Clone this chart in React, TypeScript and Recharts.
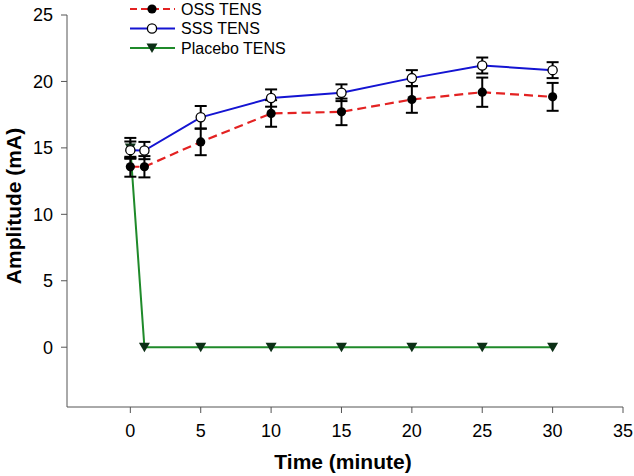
import React from 'react';
import { LineChart, Line, XAxis, YAxis, ErrorBar, Legend } from 'recharts';

const times = [0, 1, 5, 10, 15, 20, 25, 30];
const ossValues = [13.58, 13.58, 15.45, 17.59, 17.71, 18.64, 19.19, 18.84];
const ossErrors = [0.75, 0.8, 1.0, 1.0, 1.0, 1.0, 1.1, 1.05];
const sssValues = [14.83, 14.8, 17.3, 18.75, 19.15, 20.25, 21.2, 20.85];
const sssErrors = [0.65, 0.65, 0.85, 0.65, 0.63, 0.6, 0.6, 0.6];
const placeboValues = [15.0, 0, 0, 0, 0, 0, 0, 0];
const placeboErrors: (number | null)[] = [0.75, null, null, null, null, null, null, null];
const xTicks = [0, 5, 10, 15, 20, 25, 30, 35];
const yTicks = [0, 5, 10, 15, 20, 25];

const data = times.map((t, i) => ({
  time: t,
  oss: ossValues[i],
  ossErr: ossErrors[i],
  sss: sssValues[i],
  sssErr: sssErrors[i],
  placebo: placeboValues[i],
  placeboErr: placeboErrors[i],
}));

const FONT = '"Liberation Sans", Arial, Helvetica, sans-serif';
const RED = '#e32222';
const BLUE = '#1414d2';
const GREEN = '#1f8a2a';
const TRI = '#0c2f16';
const AXIS = '#555555';

const FilledDot = (p: any) =>
  p.cx == null ? null : <circle key={p.key} cx={p.cx} cy={p.cy} r={4.6} fill="#000" />;
const OpenDot = (p: any) =>
  p.cx == null ? null : (
    <circle key={p.key} cx={p.cx} cy={p.cy} r={4.6} fill="#fff" stroke="#000" strokeWidth={1.3} />
  );
const TriDot = (p: any) =>
  p.cx == null ? null : (
    <polygon
      key={p.key}
      points={`${p.cx - 5.5},${p.cy - 4.5} ${p.cx + 5.5},${p.cy - 4.5} ${p.cx},${p.cy + 5}`}
      fill={TRI}
    />
  );

const legendItems = [
  { label: 'OSS TENS', color: RED, dash: '7 4', marker: 'filled' },
  { label: 'SSS TENS', color: BLUE, dash: undefined, marker: 'open' },
  { label: 'Placebo TENS', color: GREEN, dash: undefined, marker: 'tri' },
];

const LegendContent = () => (
  <svg width={200} height={60} style={{ display: 'block' }}>
    {legendItems.map((it, i) => {
      const y = 9 + i * 19.5;
      return (
        <g key={it.label}>
          <line x1={2} y1={y} x2={47} y2={y} stroke={it.color} strokeWidth={2} strokeDasharray={it.dash} />
          {it.marker === 'filled' && <circle cx={24} cy={y} r={4.6} fill="#000" />}
          {it.marker === 'open' && <circle cx={24} cy={y} r={4.6} fill="#fff" stroke="#000" strokeWidth={1.3} />}
          {it.marker === 'tri' && (
            <polygon points={`${24 - 5.5},${y - 4.5} ${24 + 5.5},${y - 4.5} ${24},${y + 5}`} fill={TRI} />
          )}
          <text x={53} y={y} dy="0.36em" fontSize={16} fontFamily={FONT} fill="#000">
            {it.label}
          </text>
        </g>
      );
    })}
  </svg>
);

const XTitle = (props: any) => {
  const vb = props.viewBox || { x: 67, y: 407, width: 556 };
  return (
    <text
      x={vb.x + vb.width / 2 - 2}
      y={vb.y + 62}
      textAnchor="middle"
      fontSize={21}
      fontWeight="bold"
      fontFamily={FONT}
      fill="#000"
    >
      Time (minute)
    </text>
  );
};

const YTitle = () => (
  <text
    x={21}
    y={206}
    transform="rotate(-90 21 206)"
    textAnchor="middle"
    fontSize={21}
    fontWeight="bold"
    fontFamily={FONT}
    fill="#000"
  >
    Amplitude (mA)
  </text>
);

export default function App() {
  return (
    <div style={{ position: 'absolute', left: 0, top: 0, width: 634, height: 476, background: '#fff' }}>
      <LineChart
        width={634}
        height={476}
        data={data}
        margin={{ top: 15, right: 11, bottom: 0, left: 0 }}
      >
        <XAxis
          type="number"
          dataKey="time"
          domain={[-4.5, 35]}
          ticks={xTicks}
          allowDataOverflow
          height={69}
          stroke={AXIS}
          tickSize={6}
          tickMargin={11}
          tick={{ fill: '#000', fontSize: 18, fontFamily: FONT }}
          tickLine={{ stroke: AXIS }}
          label={<XTitle />}
        />
        <YAxis
          type="number"
          domain={[-4.5, 25]}
          ticks={yTicks}
          allowDataOverflow
          width={67}
          stroke={AXIS}
          tickSize={6}
          tickMargin={8}
          tick={{ fill: '#000', fontSize: 18, fontFamily: FONT }}
          tickLine={{ stroke: AXIS }}
          label={<YTitle />}
        />
        <Legend
          layout="horizontal"
          verticalAlign="middle"
          align="center"
          content={<LegendContent />}
          wrapperStyle={{ position: 'absolute', left: 128, top: 0, width: 200, height: 60 }}
        />
        <Line
          dataKey="placebo"
          stroke={GREEN}
          strokeWidth={2}
          dot={TriDot}
          activeDot={false}
          isAnimationActive={false}
          legendType="none"
        >
          <ErrorBar dataKey="placeboErr" direction="y" width={6} stroke="#000" strokeWidth={2} />
        </Line>
        <Line
          dataKey="sss"
          stroke={BLUE}
          strokeWidth={2}
          dot={OpenDot}
          activeDot={false}
          isAnimationActive={false}
        >
          <ErrorBar dataKey="sssErr" direction="y" width={6} stroke="#000" strokeWidth={2} />
        </Line>
        <Line
          dataKey="oss"
          stroke={RED}
          strokeWidth={2.2}
          strokeDasharray="9 5"
          dot={FilledDot}
          activeDot={false}
          isAnimationActive={false}
        >
          <ErrorBar dataKey="ossErr" direction="y" width={6} stroke="#000" strokeWidth={2} />
        </Line>
      </LineChart>
    </div>
  );
}
